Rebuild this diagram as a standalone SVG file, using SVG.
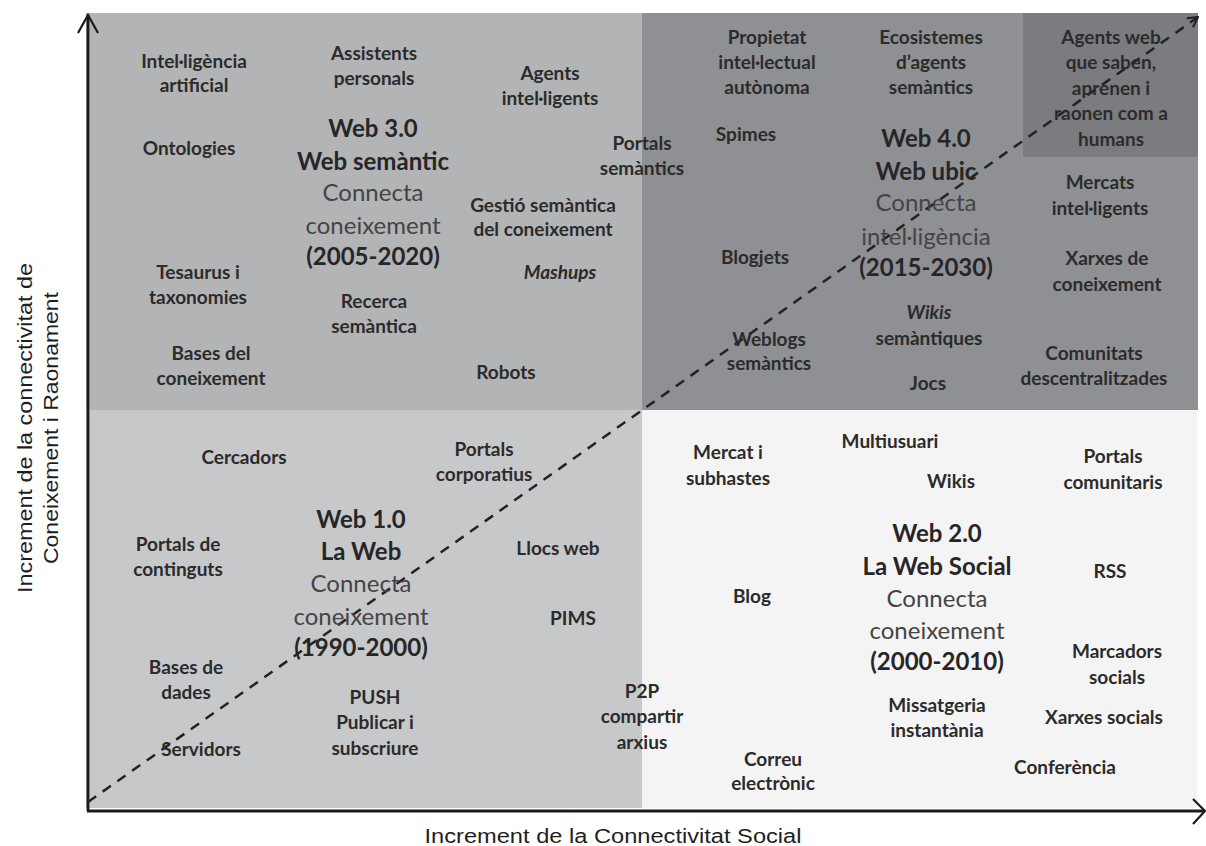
<svg xmlns="http://www.w3.org/2000/svg" width="1206" height="846" viewBox="0 0 1206 846">
<style>
.it{font-family:Lato,"Open Sans","Liberation Sans",sans-serif;font-weight:700;font-size:19px;fill:#2b2b2b;text-anchor:middle}
.em{font-style:italic}
.tb{font-family:Lato,"Open Sans","Liberation Sans",sans-serif;font-weight:700;font-size:24px;fill:#262626;text-anchor:middle}
.tr{font-family:Lato,"Open Sans","Liberation Sans",sans-serif;font-weight:400;font-size:24px;fill:#444444;text-anchor:middle}
.ax{font-family:"Liberation Sans Narrow","Liberation Sans",Arial,sans-serif;font-size:20px;fill:#1e1e1e;text-anchor:middle}
.axis{stroke:#1a1a1a;stroke-width:2.8;fill:none}
.dash{stroke:#222;stroke-width:2.5;fill:none;stroke-dasharray:10 8}
.head{stroke:#1a1a1a;stroke-width:2.2;fill:none;stroke-linejoin:miter}
</style>
<defs>
<marker id="openArrow" viewBox="0 0 12 12" refX="11" refY="6" markerWidth="12" markerHeight="12" markerUnits="userSpaceOnUse" orient="auto">
<path d="M1,0.5 L11,6 L1,11.5" fill="none" stroke="#222" stroke-width="2"/>
</marker>
</defs>
<rect width="1206" height="846" fill="#ffffff"/>
<g id="quadrants">
<rect id="q-web3" x="86" y="13" width="556" height="397" fill="#b3b4b6"/>
<rect id="q-web4" x="642" y="13" width="556" height="397" fill="#8f9094"/>
<rect id="q-web4-top" x="1023" y="13" width="175" height="144" fill="#7b7c80"/>
<rect id="q-web1" x="86" y="410" width="556" height="398" fill="#c7c8ca"/>
<rect id="q-web2" x="642" y="410" width="555" height="398" fill="#f4f4f4"/>
</g>
<g id="connectors">
<line class="axis" x1="88" y1="811" x2="88" y2="15"/>
<polyline class="head" points="78,33 88,15 98,33"/>
<line class="axis" x1="87" y1="811" x2="1204" y2="811"/>
<polyline class="head" points="1193,799 1205,811 1193,824"/>
<line class="dash" x1="88" y1="802" x2="1198" y2="17" marker-end="url(#openArrow)"/>
</g>
<g id="axis-labels">
<text class="ax" transform="translate(32,428) rotate(-90)" textLength="330" lengthAdjust="spacingAndGlyphs">Increment de la connectivitat de</text>
<text class="ax" transform="translate(58,428) rotate(-90)" textLength="272" lengthAdjust="spacingAndGlyphs">Coneixement i Raonament</text>
<text class="ax" x="613" y="843" textLength="377" lengthAdjust="spacingAndGlyphs">Increment de la Connectivitat Social</text>
</g>
<g id="web3">
<g id="n-ia"><text class="it" x="194" y="68">Intel·ligència</text><text class="it" x="194" y="92">artificial</text></g>
<g id="n-assistents"><text class="it" x="374" y="60">Assistents</text><text class="it" x="374" y="85">personals</text></g>
<g id="n-agents"><text class="it" x="550" y="80">Agents</text><text class="it" x="550" y="105">intel·ligents</text></g>
<g id="n-ontologies"><text class="it" x="189" y="155">Ontologies</text></g>
<g id="n-web3-title"><text class="tb" x="373" y="137">Web 3.0</text><text class="tb" x="373" y="170">Web semàntic</text><text class="tr" x="373" y="201">Connecta</text><text class="tr" x="373" y="234">coneixement</text><text class="tb" x="373" y="265">(2005-2020)</text></g>
<g id="n-portals-sem"><text class="it" x="642" y="150">Portals</text><text class="it" x="642" y="175">semàntics</text></g>
<g id="n-gestio"><text class="it" x="543" y="212">Gestió semàntica</text><text class="it" x="543" y="236">del coneixement</text></g>
<g id="n-mashups"><text class="it em" x="560" y="279">Mashups</text></g>
<g id="n-tesaurus"><text class="it" x="198" y="279">Tesaurus i</text><text class="it" x="198" y="304">taxonomies</text></g>
<g id="n-recerca"><text class="it" x="374" y="308">Recerca</text><text class="it" x="374" y="333">semàntica</text></g>
<g id="n-bases-con"><text class="it" x="211" y="360">Bases del</text><text class="it" x="211" y="385">coneixement</text></g>
<g id="n-robots"><text class="it" x="506" y="379">Robots</text></g>
</g>
<g id="web4">
<g id="n-propietat"><text class="it" x="767" y="44">Propietat</text><text class="it" x="767" y="69">intel·lectual</text><text class="it" x="767" y="94">autònoma</text></g>
<g id="n-ecosistemes"><text class="it" x="931" y="44">Ecosistemes</text><text class="it" x="931" y="69">d’agents</text><text class="it" x="931" y="94">semàntics</text></g>
<g id="n-agents-web"><text class="it" x="1111" y="44">Agents web</text><text class="it" x="1111" y="69">que saben,</text><text class="it" x="1111" y="95">aprenen i</text><text class="it" x="1111" y="120">raonen com a</text><text class="it" x="1111" y="146">humans</text></g>
<g id="n-spimes"><text class="it" x="746" y="141">Spimes</text></g>
<g id="n-web4-title"><text class="tb" x="926" y="147">Web 4.0</text><text class="tb" x="926" y="180">Web ubic</text><text class="tr" x="926" y="211">Connecta</text><text class="tr" x="926" y="245">intel·ligència</text><text class="tb" x="926" y="276">(2015-2030)</text></g>
<g id="n-mercats"><text class="it" x="1100" y="189">Mercats</text><text class="it" x="1100" y="215">intel·ligents</text></g>
<g id="n-blogjets"><text class="it" x="755" y="264">Blogjets</text></g>
<g id="n-xarxes-con"><text class="it" x="1107" y="265">Xarxes de</text><text class="it" x="1107" y="291">coneixement</text></g>
<g id="n-wikis-sem"><text class="it em" x="929" y="319">Wikis</text><text class="it" x="929" y="345">semàntiques</text></g>
<g id="n-weblogs"><text class="it" x="769" y="346">Weblogs</text><text class="it" x="769" y="370">semàntics</text></g>
<g id="n-comunitats"><text class="it" x="1094" y="360">Comunitats</text><text class="it" x="1094" y="385">descentralitzades</text></g>
<g id="n-jocs"><text class="it" x="928" y="390">Jocs</text></g>
</g>
<g id="web1">
<g id="n-cercadors"><text class="it" x="244" y="464">Cercadors</text></g>
<g id="n-portals-corp"><text class="it" x="484" y="456">Portals</text><text class="it" x="484" y="481">corporatius</text></g>
<g id="n-web1-title"><text class="tb" x="361" y="528">Web 1.0</text><text class="tb" x="361" y="560">La Web</text><text class="tr" x="361" y="592">Connecta</text><text class="tr" x="361" y="625">coneixement</text><text class="tb" x="361" y="656">(1990-2000)</text></g>
<g id="n-portals-cont"><text class="it" x="178" y="551">Portals de</text><text class="it" x="178" y="576">continguts</text></g>
<g id="n-llocs"><text class="it" x="558" y="555">Llocs web</text></g>
<g id="n-pims"><text class="it" x="573" y="625">PIMS</text></g>
<g id="n-bases-dades"><text class="it" x="186" y="674">Bases de</text><text class="it" x="186" y="699">dades</text></g>
<g id="n-push"><text class="it" x="375" y="704">PUSH</text><text class="it" x="375" y="729">Publicar i</text><text class="it" x="375" y="755">subscriure</text></g>
<g id="n-servidors"><text class="it" x="201" y="756">Servidors</text></g>
<g id="n-p2p"><text class="it" x="642" y="698">P2P</text><text class="it" x="642" y="723">compartir</text><text class="it" x="642" y="749">arxius</text></g>
</g>
<g id="web2">
<g id="n-mercat"><text class="it" x="728" y="459">Mercat i</text><text class="it" x="728" y="485">subhastes</text></g>
<g id="n-multiusuari"><text class="it" x="890" y="448">Multiusuari</text></g>
<g id="n-wikis"><text class="it" x="951" y="488">Wikis</text></g>
<g id="n-portals-com"><text class="it" x="1113" y="463">Portals</text><text class="it" x="1113" y="489">comunitaris</text></g>
<g id="n-web2-title"><text class="tb" x="937" y="542">Web 2.0</text><text class="tb" x="937" y="575">La Web Social</text><text class="tr" x="937" y="607">Connecta</text><text class="tr" x="937" y="639">coneixement</text><text class="tb" x="937" y="670">(2000-2010)</text></g>
<g id="n-rss"><text class="it" x="1110" y="578">RSS</text></g>
<g id="n-blog"><text class="it" x="752" y="603">Blog</text></g>
<g id="n-marcadors"><text class="it" x="1117" y="658">Marcadors</text><text class="it" x="1117" y="684">socials</text></g>
<g id="n-missatgeria"><text class="it" x="937" y="712">Missatgeria</text><text class="it" x="937" y="737">instantània</text></g>
<g id="n-xarxes-soc"><text class="it" x="1104" y="724">Xarxes socials</text></g>
<g id="n-correu"><text class="it" x="773" y="766">Correu</text><text class="it" x="773" y="790">electrònic</text></g>
<g id="n-conferencia"><text class="it" x="1065" y="774">Conferència</text></g>
</g>
</svg>
